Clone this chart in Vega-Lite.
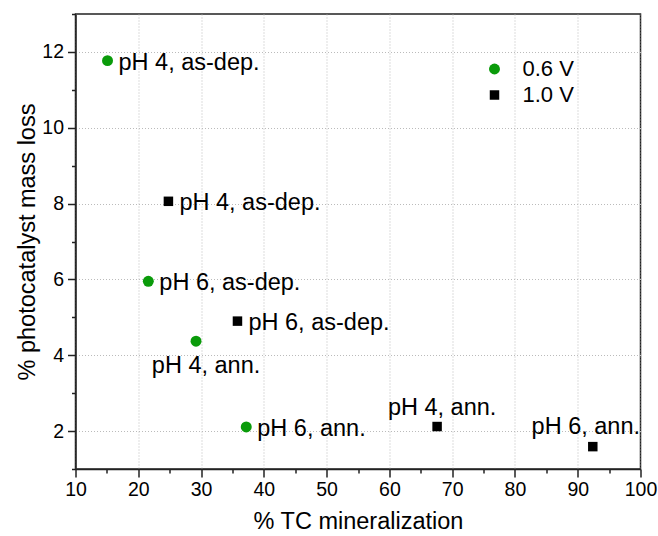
{
  "$schema": "https://vega.github.io/schema/vega-lite/v6.json",
  "width": 565,
  "height": 455,
  "autosize": "none",
  "padding": {"left": 75.5, "top": 14, "right": 17.5, "bottom": 67},
  "background": "white",
  "config": {
    "font": "Liberation Sans",
    "view": {"stroke": "#222222", "strokeWidth": 1.5},
    "axis": {
      "domainColor": "#222222",
      "domainWidth": 1.5,
      "tickColor": "#222222",
      "tickWidth": 1.5,
      "labelFont": "Liberation Sans",
      "labelFontSize": 19.5,
      "labelColor": "#000000",
      "titleFont": "Liberation Sans",
      "titleFontSize": 23.5,
      "titleFontWeight": "normal",
      "titleColor": "#000000",
      "gridColor": "#bbbbbb",
      "gridDash": [1, 2],
      "gridWidth": 1
    }
  },
  "data": {
    "values": [
      {"tc": 15.1, "loss": 11.77, "V": "0.6 V", "label": "pH 4, as-dep."},
      {"tc": 21.6, "loss": 5.95, "V": "0.6 V", "label": "pH 6, as-dep."},
      {"tc": 29.2, "loss": 4.37, "V": "0.6 V", "label": "pH 4, ann."},
      {"tc": 37.2, "loss": 2.11, "V": "0.6 V", "label": "pH 6, ann."},
      {"tc": 24.8, "loss": 8.06, "V": "1.0 V", "label": "pH 4, as-dep."},
      {"tc": 35.8, "loss": 4.9, "V": "1.0 V", "label": "pH 6, as-dep."},
      {"tc": 67.6, "loss": 2.12, "V": "1.0 V", "label": "pH 4, ann."},
      {"tc": 92.4, "loss": 1.59, "V": "1.0 V", "label": "pH 6, ann."}
    ]
  },
  "encoding": {
    "x": {
      "field": "tc",
      "type": "quantitative",
      "scale": {"domain": [10, 100], "nice": false, "zero": false},
      "axis": {
        "title": "% TC mineralization",
        "values": [10, 15, 20, 25, 30, 35, 40, 45, 50, 55, 60, 65, 70, 75, 80, 85, 90, 95, 100],
        "labelExpr": "datum.value % 10 === 0 ? datum.label : ''",
        "tickSize": {"condition": {"test": "datum.value % 10 === 0", "value": 8}, "value": 4},
        "gridOpacity": {"condition": {"test": "datum.value % 10 === 0", "value": 1}, "value": 0},
        "labelPadding": 3,
        "titlePadding": 11,
        "labelFlush": false,
        "labelOverlap": false
      }
    },
    "y": {
      "field": "loss",
      "type": "quantitative",
      "scale": {"domain": [1, 13], "nice": false, "zero": false},
      "axis": {
        "title": "% photocatalyst mass loss",
        "values": [1, 2, 3, 4, 5, 6, 7, 8, 9, 10, 11, 12, 13],
        "labelExpr": "datum.value % 2 === 0 ? datum.label : ''",
        "tickSize": {"condition": {"test": "datum.value % 2 === 0", "value": 8}, "value": 4},
        "gridOpacity": {"condition": {"test": "datum.value % 2 === 0", "value": 1}, "value": 0},
        "labelPadding": 4,
        "titlePadding": 2,
        "labelFlush": false,
        "labelOverlap": false
      }
    }
  },
  "layer": [
    {
      "mark": {"type": "point", "filled": true, "opacity": 1},
      "encoding": {
        "color": {
          "field": "V",
          "type": "nominal",
          "scale": {"domain": ["0.6 V", "1.0 V"], "range": ["#0a9b0a", "#000000"]},
          "legend": {
            "title": null,
            "orient": "none",
            "legendX": 408,
            "legendY": 44,
            "labelFont": "Liberation Sans",
            "labelFontSize": 22,
            "labelColor": "#000000",
            "labelOffset": 17,
            "rowPadding": 4,
            "padding": 0
          }
        },
        "shape": {
          "field": "V",
          "type": "nominal",
          "scale": {"domain": ["0.6 V", "1.0 V"], "range": ["circle", "square"]},
          "legend": {
            "title": null,
            "orient": "none",
            "legendX": 408,
            "legendY": 44,
            "labelFont": "Liberation Sans",
            "labelFontSize": 22,
            "labelColor": "#000000",
            "labelOffset": 17,
            "rowPadding": 4,
            "padding": 0
          }
        },
        "size": {
          "field": "V",
          "type": "nominal",
          "scale": {"domain": ["0.6 V", "1.0 V"], "range": [120, 90]},
          "legend": {
            "title": null,
            "orient": "none",
            "legendX": 408,
            "legendY": 44,
            "labelFont": "Liberation Sans",
            "labelFontSize": 22,
            "labelColor": "#000000",
            "labelOffset": 17,
            "rowPadding": 4,
            "padding": 0
          }
        }
      }
    },
    {
      "transform": [{"filter": "datum.label !== 'pH 4, ann.' && !(datum.V === '1.0 V' && datum.label === 'pH 6, ann.')"}],
      "mark": {"type": "text", "align": "left", "baseline": "middle", "dx": 11, "dy": 2, "fontSize": 23.5, "font": "Liberation Sans", "color": "#000000"},
      "encoding": {"text": {"field": "label"}}
    },
    {
      "transform": [{"filter": "datum.V === '0.6 V' && datum.label === 'pH 4, ann.'"}],
      "mark": {"type": "text", "align": "center", "baseline": "middle", "dx": 10, "dy": 25, "fontSize": 23.5, "font": "Liberation Sans", "color": "#000000"},
      "encoding": {"text": {"field": "label"}}
    },
    {
      "transform": [{"filter": "datum.V === '1.0 V' && datum.label === 'pH 4, ann.'"}],
      "mark": {"type": "text", "align": "center", "baseline": "middle", "dx": 5, "dy": -19, "fontSize": 23.5, "font": "Liberation Sans", "color": "#000000"},
      "encoding": {"text": {"field": "label"}}
    },
    {
      "transform": [{"filter": "datum.V === '1.0 V' && datum.label === 'pH 6, ann.'"}],
      "mark": {"type": "text", "align": "center", "baseline": "middle", "dx": -7, "dy": -20, "fontSize": 23.5, "font": "Liberation Sans", "color": "#000000"},
      "encoding": {"text": {"field": "label"}}
    }
  ]
}
